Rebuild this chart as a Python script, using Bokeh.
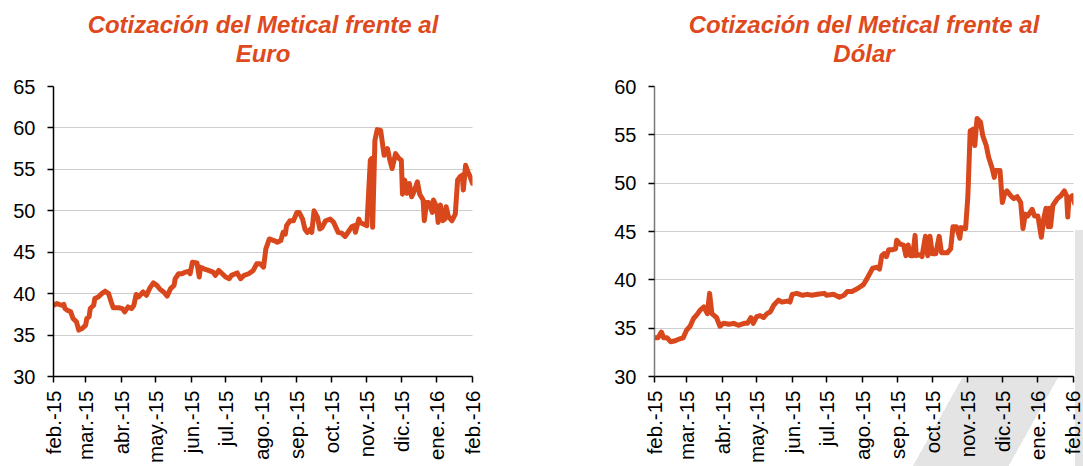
import math
from bokeh.plotting import figure
from bokeh.layouts import row
from bokeh.models import Range1d, FixedTicker, Title, InlineStyleSheet, LinearAxis
from bokeh.embed import file_html
from bokeh.resources import INLINE

# ---------------- data (days counted from 1 Feb 2015) ----------------
month_days = [0, 28, 59, 89, 120, 150, 181, 212, 242, 273, 303, 334, 365]
month_labels = ["feb.-15", "mar.-15", "abr.-15", "may.-15", "jun.-15", "jul.-15",
                "ago.-15", "sep.-15", "oct.-15", "nov.-15", "dic.-15", "ene.-16", "feb.-16"]

eur_day = [0, 3, 7, 9, 10, 12, 15, 17, 20, 22, 25, 28, 29, 31, 32, 35, 36, 39, 42, 45,
           48, 50, 52, 57, 60, 62, 65, 68, 70, 72, 74, 78, 81, 84, 87, 90, 93, 96, 99, 102,
           105, 106, 109, 112, 115, 118, 119, 121, 125, 127, 128, 131, 135, 139, 141, 144,
           147, 150, 153, 155, 160, 163, 166, 170, 174, 177, 180, 183, 185, 188, 192, 195,
           198, 200, 202, 203, 206, 209, 212, 214, 217, 219, 221, 224, 225, 227, 230, 232,
           234, 237, 241, 244, 248, 251, 254, 257, 260, 262, 263, 266, 267, 270, 273, 276,
           277, 278, 280, 282, 285, 288, 291, 293, 295, 298, 301, 303, 304, 306, 308, 310,
           312, 314, 317, 319, 322, 323, 325, 327, 330, 331, 334, 335, 337, 339, 341, 342,
           344, 347, 350, 352, 354, 356, 357, 359, 361, 363, 365]
eur_val = [38.6, 38.8, 38.6, 38.7, 38.2, 38.0, 37.8, 37.0, 36.6, 35.6, 35.8, 36.2, 37.0, 37.2,
           38.2, 38.6, 39.4, 39.6, 40.0, 40.3, 40.0, 39.1, 38.3, 38.3, 38.2, 37.8, 38.4, 38.2,
           38.6, 39.9, 39.6, 40.2, 39.8, 40.7, 41.3, 41.0, 40.5, 40.2, 39.7, 40.6, 41.0, 41.8,
           42.4, 42.4, 42.6, 42.7, 42.4, 43.8, 43.7, 42.0, 43.2, 43.0, 42.8, 42.6, 42.2, 42.8,
           42.4, 42.0, 41.8, 42.2, 42.5, 41.8, 42.2, 42.4, 42.8, 43.6, 43.6, 43.2, 45.4, 46.6,
           46.4, 46.2, 46.4, 47.4, 47.2, 48.2, 48.8, 48.8, 49.8, 49.8, 49.0, 47.8, 47.4, 47.8,
           47.4, 50.0, 49.2, 47.8, 48.0, 48.8, 49.0, 48.6, 47.4, 47.3, 46.9, 47.5, 48.1, 48.2,
           47.4, 49.0, 48.6, 48.4, 48.2, 56.1, 56.3, 48.0, 58.5, 59.8, 59.7, 56.7, 57.5, 56.1,
           55.1, 56.9, 56.3, 56.1, 52.0, 53.7, 52.1, 53.3, 51.7, 52.3, 53.5, 52.0, 51.3, 48.8,
           51.0, 51.0, 49.8, 51.3, 50.4, 48.6, 50.7, 48.8, 49.0, 50.5, 49.3, 48.8, 49.6, 53.7,
           54.1, 54.3, 52.5, 55.5, 54.7, 54.1, 53.3]

usd_day = [0, 3, 6, 8, 11, 14, 18, 22, 25, 28, 31, 34, 37, 40, 43, 46, 48, 50, 54, 57, 60, 65,
           69, 73, 78, 81, 84, 86, 89, 92, 95, 98, 101, 104, 108, 111, 116, 118, 120, 124, 129,
           133, 137, 142, 148, 150, 156, 161, 165, 168, 172, 177, 182, 185, 190, 194, 196, 198,
           200, 202, 204, 207, 210, 211, 214, 217, 219, 221, 223, 225, 227, 228, 231, 233, 236,
           238, 240, 242, 245, 248, 250, 255, 258, 260, 263, 266, 267, 271, 273, 275, 278, 279,
           281, 284, 286, 289, 291, 294, 296, 297, 301, 303, 305, 307, 311, 313, 316, 319, 321,
           323, 325, 329, 331, 334, 337, 339, 341, 343, 344, 345, 347, 351, 354, 357, 359, 360,
           361, 364, 366]
usd_val = [34.0, 34.0, 34.6, 34.0, 34.0, 33.6, 33.7, 33.9, 34.0, 34.8, 35.2, 36.0, 36.4, 36.9,
           37.2, 36.5, 38.6, 36.5, 36.1, 35.2, 35.5, 35.4, 35.5, 35.3, 35.5, 35.5, 36.1, 35.5,
           36.2, 36.3, 36.1, 36.5, 36.7, 37.4, 37.9, 37.7, 37.8, 37.7, 38.5, 38.6, 38.4, 38.5,
           38.4, 38.5, 38.6, 38.4, 38.5, 38.2, 38.4, 38.8, 38.8, 39.1, 39.5, 40.1, 41.2, 41.3,
           41.1, 42.5, 42.7, 42.4, 43.1, 43.1, 43.2, 44.1, 43.7, 43.6, 42.5, 43.6, 42.5, 42.5,
           44.6, 42.5, 42.6, 42.4, 44.5, 42.5, 44.5, 42.7, 42.7, 44.5, 42.8, 42.8, 43.2, 45.5,
           45.5, 44.3, 45.4, 45.3, 48.7, 55.4, 55.6, 53.9, 56.7, 56.3, 54.9, 53.9, 52.7, 51.6,
           50.6, 51.3, 51.3, 48.0, 48.9, 49.2, 48.6, 48.4, 48.6, 48.0, 45.3, 46.8, 46.6, 47.3,
           46.6, 46.6, 44.4, 46.3, 47.4, 45.5, 47.4, 45.5, 47.7, 48.4, 48.7, 49.2, 48.7, 46.5,
           48.4, 48.7, 47.9]

eur_ticks = [30, 35, 40, 45, 50, 55, 60, 65]
usd_ticks = [30, 35, 40, 45, 50, 55, 60]

# ---------------- styling ----------------
LINE_COLOR = "#D9481C"
TITLE_COLOR = "#DE4A1D"
FONT = "Liberation Sans"


def make_fig(t1, t2, days, vals, ticks, width, bl, br, yaxis_color):
    p = figure(width=width, height=466, output_backend="svg", toolbar_location=None,
               x_range=Range1d(0, 365), y_range=Range1d(ticks[0], ticks[-1]),
               min_border_left=bl, min_border_right=br, min_border_top=86,
               min_border_bottom=4)
    p.outline_line_color = None
    p.background_fill_color = "white"
    p.border_fill_color = "white"

    p.line(days, vals, line_width=5, color=LINE_COLOR, line_join="round", line_cap="round")

    # x axis
    xa = p.xaxis[0]
    xa.ticker = FixedTicker(ticks=month_days)
    xa.major_label_overrides = {d: lab for d, lab in zip(month_days, month_labels)}
    xa.major_label_orientation = math.pi / 2
    xa.major_label_text_font = FONT
    xa.major_label_text_font_size = "20.5px"
    xa.major_label_text_color = "black"
    xa.major_label_standoff = 8
    xa.axis_label_standoff = 0
    xa.major_tick_out = 6
    xa.major_tick_in = 0
    xa.minor_tick_out = 0
    xa.minor_tick_in = 0
    xa.axis_line_color = "black"
    xa.axis_line_width = 1.5
    xa.major_tick_line_color = "black"
    xa.major_tick_line_width = 1.5

    # y axis
    ya = p.yaxis[0]
    ya.ticker = FixedTicker(ticks=ticks)
    ya.major_label_text_font = FONT
    ya.major_label_text_font_size = "20px"
    ya.major_label_text_color = "black"
    ya.major_label_standoff = 12
    ya.major_tick_out = 6
    ya.major_tick_in = 0
    ya.minor_tick_out = 0
    ya.minor_tick_in = 0
    ya.axis_line_color = yaxis_color
    ya.axis_line_width = 1.5
    ya.major_tick_line_color = "black"
    ya.major_tick_line_width = 1.5

    # grid
    p.xgrid.visible = False
    p.ygrid.grid_line_color = "#9C9C9C"
    p.ygrid.grid_line_dash = "1 1"
    p.ygrid.grid_line_width = 1

    # spacer between the frame and the second title line (white, label-less axis)
    p.add_layout(LinearAxis(ticker=FixedTicker(ticks=[0]), axis_line_color=None,
                            major_tick_line_color="white", minor_tick_line_color=None,
                            major_tick_out=20, major_tick_in=0, minor_tick_out=0,
                            minor_tick_in=0, major_label_standoff=0,
                            major_label_text_color=None,
                            axis_label_standoff=0), "above")

    # two-line title
    p.title.text = t1
    p.title.align = "center"
    p.title.text_font = FONT
    p.title.text_font_style = "bold italic"
    p.title.text_font_size = "24px"
    p.title.text_color = TITLE_COLOR
    p.title.standoff = 0
    p.add_layout(Title(text=t2, align="center", text_font=FONT,
                       text_font_style="bold italic", text_font_size="24px",
                       text_color=TITLE_COLOR, standoff=0), "above")
    return p


p1 = make_fig("Cotización del Metical frente al", "Euro", eur_day, eur_val, eur_ticks,
              548, 53, 76, "black")
p2 = make_fig("Cotización del Metical frente al", "Dólar", usd_day, usd_val, usd_ticks,
              535, 106, 10, "#7A7A7A")

# light-grey page decoration visible behind the right chart's lower-right corner
p2.border_fill_alpha = 0
p2.stylesheets = [InlineStyleSheet(css="""
:host {
  background:
    linear-gradient(#e4e4e4, #e4e4e4) right 0px top 230px / 8px 236px no-repeat,
    linear-gradient(119.2deg, transparent 361.5px, #e4e4e4 361.5px, #e4e4e4 445px,
                    transparent 445px) left 0px top 378px / 535px 88px no-repeat,
    white;
}
""")]

layout = row(p1, p2)
open("out.html", "w").write(file_html(layout, INLINE))
